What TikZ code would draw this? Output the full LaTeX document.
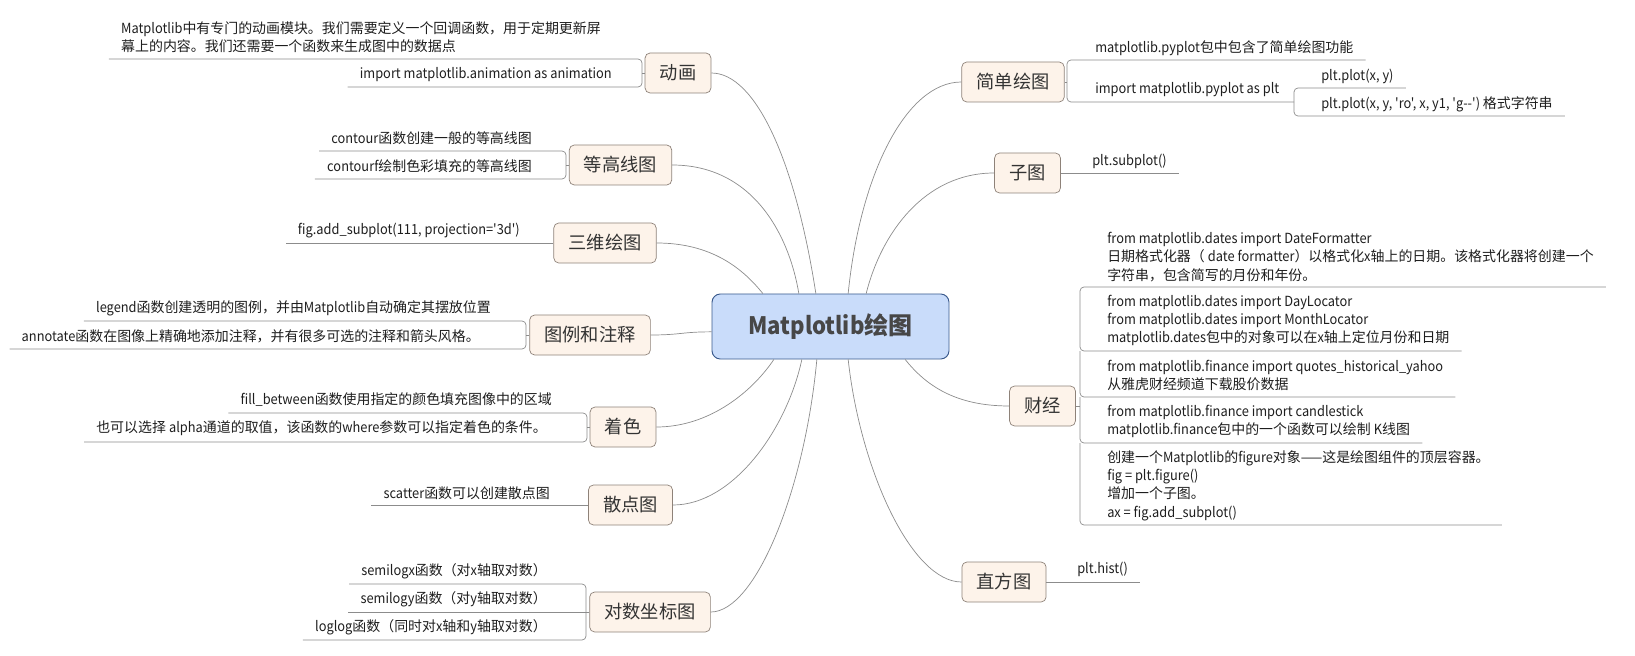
\documentclass[tikz,border=0pt]{standalone}
\usepackage{fontspec}
\setmainfont{Noto Sans CJK SC}
\newfontfamily\cjkfam{Noto Sans CJK SC}
\newfontfamily\latfam{Noto Sans CJK SC}[FakeStretch=0.92]
\usetikzlibrary{calc}

% latin runs a little narrower than the CJK ones
\XeTeXinterchartokenstate=1
\newXeTeXintercharclass\cjkclass
\makeatletter
\count@="3000
\loop\ifnum\count@<"A000 \XeTeXcharclass\count@=\cjkclass \advance\count@ by 1 \repeat
\count@="FF00
\loop\ifnum\count@<"FFF0 \XeTeXcharclass\count@=\cjkclass \advance\count@ by 1 \repeat
\makeatother
\XeTeXinterchartoks 0 \cjkclass = {\cjkfam}
\XeTeXinterchartoks 4095 \cjkclass = {\cjkfam}
\XeTeXinterchartoks \cjkclass 0 = {\latfam}
\XeTeXinterchartoks 4095 0 = {\latfam}

\definecolor{rootfill}{HTML}{C9DCFA}
\definecolor{rootdraw}{HTML}{3B5A8C}
\definecolor{brfill}{HTML}{FDF3EA}
\definecolor{brdraw}{HTML}{8E8279}
\definecolor{linegray}{HTML}{8C8C8C}
\definecolor{txt}{HTML}{1E1E1E}

\tikzset{
  root/.style={draw=rootdraw, fill=rootfill, rounded corners=0.25cm, line width=0.8pt,
    minimum width=7.11cm, minimum height=1.95cm, text=black!72,
    font=\fontsize{20.5}{24}\selectfont\bfseries},
  branch/.style={draw=brdraw, fill=brfill, rounded corners=0.15cm, line width=0.6pt,
    minimum height=1.2cm, inner xsep=0.44cm, text=black!80,
    font=\fontsize{15.6}{18}\selectfont},
  leaf/.style={inner xsep=0.36cm, inner ysep=0pt, align=left, text=txt,
    font=\fontsize{11.9}{15.6}\selectfont},
  link/.style={draw=linegray, line width=0.6pt},
  uline/.style={draw=linegray, line width=0.6pt, rounded corners=0.12cm},
}

\begin{document}
\begin{tikzpicture}[x=0.03cm,y=-0.03cm]
\useasboundingbox (0,0) rectangle (1635,656);

% centre
\node[root] (root) at (830.5,326.5) {Matplotlib绘图};

% left branches
\node[branch] (animB) at (678,73) {动画};
\node[branch] (contB) at (620.5,165) {等高线图};
\node[branch] (threeB) at (605,243) {三维绘图};
\node[branch] (legB) at (590,335) {图例和注释};
\node[branch] (colB) at (623,427) {着色};
\node[branch] (scatB) at (630.5,505) {散点图};
\node[branch] (logB) at (650,612) {对数坐标图};

% right branches
\node[branch] (simpB) at (1013,82) {简单绘图};
\node[branch] (subB) at (1027.5,173) {子图};
\node[branch] (finB) at (1042.5,406) {财经};
\node[branch] (histB) at (1004,582) {直方图};

% curves from the centre
\draw[link] (animB.east) .. controls +(45,0) and +(-20,-130) .. ([xshift=-0.44cm]root.north);
\draw[link] (contB.east) .. controls +(80,0) and +(-10,-60) .. ([xshift=-0.95cm]root.north);
\draw[link] (threeB.east) .. controls +(55,0) and +(-20,-25) .. ([xshift=-2.03cm]root.north);
\draw[link] (legB.east) .. controls +(30,0) and +(-30,0) .. ([yshift=-0.16cm]root.west);
\draw[link] (colB.east) .. controls +(55,0) and +(-20,30) .. ([xshift=-1.70cm]root.south);
\draw[link] (scatB.east) .. controls +(60,0) and +(-15,70) .. ([xshift=-0.86cm]root.south);
\draw[link] (logB.east) .. controls +(45,0) and +(-12,130) .. ([xshift=-0.41cm]root.south);
\draw[link] (simpB.west) .. controls +(-55,0) and +(12,-120) .. ([xshift=0.53cm]root.north);
\draw[link] (subB.west) .. controls +(-70,0) and +(15,-60) .. ([xshift=1.07cm]root.north);
\draw[link] (finB.west) .. controls +(-55,0) and +(20,25) .. ([xshift=2.24cm]root.south);
\draw[link] (histB.west) .. controls +(-50,0) and +(12,110) .. ([xshift=0.53cm]root.south);

% bracket joints
\coordinate (animK) at (642,73);
\coordinate (contK) at (566,165);
\coordinate (legK) at (526,335);
\coordinate (colK) at (587,427);
\coordinate (logK) at (586,612);
\coordinate (simpK) at (1067,82);
\coordinate (plotK) at (1294,102);
\coordinate (finK) at (1080,406);

%%%%%%%%%%%%%%%%%%%%%%%%%%%%%%%%%%%%%%%%%%%%%%%%%%%%%%%%%%%%%%%% left side
\node[leaf, anchor=east] (anim1) at (613,37.5) {Matplotlib中有专门的动画模块。我们需要定义一个回调函数，用于定期更新屏\\幕上的内容。我们还需要一个函数来生成图中的数据点};
\node[leaf, anchor=east] (anim2) at (624,75) {import matplotlib.animation as animation};
\draw[uline] (anim1.west |- 0,59) -| (642,87) -- (anim2.west |- 0,87);
\draw[link] (animB.west) -- (animK);

\node[leaf, anchor=east] (cont1) at (544,138) {contour函数创建一般的等高线图};
\node[leaf, anchor=east] (cont2) at (544,166) {contourf绘制色彩填充的等高线图};
\draw[uline] (cont1.west |- 0,151) -| (566,179) -- (cont2.west |- 0,179);
\draw[link] (contB.west) -- (contK);

\node[leaf, anchor=east] (three1) at (532,231) {fig.add\_subplot(111, projection='3d')};
\draw[link] (threeB.west) -- (three1.west |- threeB.west);

\node[leaf, anchor=east] (leg1) at (503,308) {legend函数创建透明的图例，并由Matplotlib自动确定其摆放位置};
\node[leaf, anchor=east] (leg2) at (492,336) {annotate函数在图像上精确地添加注释，并有很多可选的注释和箭头风格。};
\draw[uline] (leg1.west |- 0,321) -| (526,349) -- (leg2.west |- 0,349);
\draw[link] (legB.west) -- (legK);

\node[leaf, anchor=east] (col1) at (564,400) {fill\_between函数使用指定的颜色填充图像中的区域};
\node[leaf, anchor=east] (col2) at (559,428) {也可以选择 alpha通道的取值，该函数的where参数可以指定着色的条件。};
\draw[uline] (col1.west |- 0,413) -| (587,442) -- (col2.west |- 0,442);
\draw[link] (colB.west) -- (colK);

\node[leaf, anchor=east] (scat1) at (562,493) {scatter函数可以创建散点图};
\draw[link] (scatB.west) -- (scat1.west |- scatB.west);

\node[leaf, anchor=east] (log1) at (559,571) {semilogx函数（对x轴取对数）};
\node[leaf, anchor=east] (log2) at (559,599) {semilogy函数（对y轴取对数）};
\node[leaf, anchor=east] (log3) at (559,627) {loglog函数（同时对x轴和y轴取对数）};
\draw[uline] (log1.west |- 0,584) -| (586,640) -- (log3.west |- 0,640);
\draw[uline] (log2.west |- 0,612) -- (586,612);
\draw[link] (logB.west) -- (logK);

%%%%%%%%%%%%%%%%%%%%%%%%%%%%%%%%%%%%%%%%%%%%%%%%%%%%%%%%%%%%%%%% right side
\node[leaf, anchor=west] (simp1) at (1083,48) {matplotlib.pyplot包中包含了简单绘图功能};
\node[leaf, anchor=west] (simp2) at (1083,90) {import matplotlib.pyplot as plt};
\draw[uline] (simp1.east |- 0,60) -| (1067,102) -- (plotK);
\draw[link] (simpB.east) -- (simpK);

\node[leaf, anchor=west] (plot1) at (1309,76) {plt.plot(x, y)};
\node[leaf, anchor=west] (plot2) at (1309,104) {plt.plot(x, y, 'ro', x, y1, 'g--') 格式字符串};
\draw[uline] (plot1.east |- 0,88) -| (1294,116) -- (plot2.east |- 0,116);

\node[leaf, anchor=west] (sub1) at (1080,161) {plt.subplot()};
\draw[link] (subB.east) -- (sub1.east |- subB.east);

\node[leaf, anchor=west] (fin1) at (1095,257) {from matplotlib.dates import DateFormatter\\日期格式化器（ date formatter）以格式化x轴上的日期。该格式化器将创建一个\\字符串，包含简写的月份和年份。};
\node[leaf, anchor=west] (fin2) at (1095,320.5) {from matplotlib.dates import DayLocator\\from matplotlib.dates import MonthLocator\\matplotlib.dates包中的对象可以在x轴上定位月份和日期};
\node[leaf, anchor=west] (fin3) at (1095,375.5) {from matplotlib.finance import quotes\_historical\_yahoo\\从雅虎财经频道下载股价数据};
\node[leaf, anchor=west] (fin4) at (1095,421.5) {from matplotlib.finance import candlestick\\matplotlib.finance包中的一个函数可以绘制 K线图};
\node[leaf, anchor=west] (fin5) at (1095,485.5) {创建一个Matplotlib的figure对象——这是绘图组件的顶层容器。\\fig = plt.figure()\\增加一个子图。\\ax = fig.add\_subplot()};
\draw[uline] (fin1.east |- 0,287) -| (1080,351) -- (fin2.east |- 0,351);
\draw[uline] (1080,351) |- (fin3.east |- 0,397);
\draw[uline] (1080,397) |- (fin4.east |- 0,443);
\draw[uline] (1080,443) |- (fin5.east |- 0,525);
\draw[link] (finB.east) -- (finK);

\node[leaf, anchor=west] (hist1) at (1065,569) {plt.hist()};
\draw[link] (histB.east) -- (hist1.east |- histB.east);
\end{tikzpicture}
\end{document}
